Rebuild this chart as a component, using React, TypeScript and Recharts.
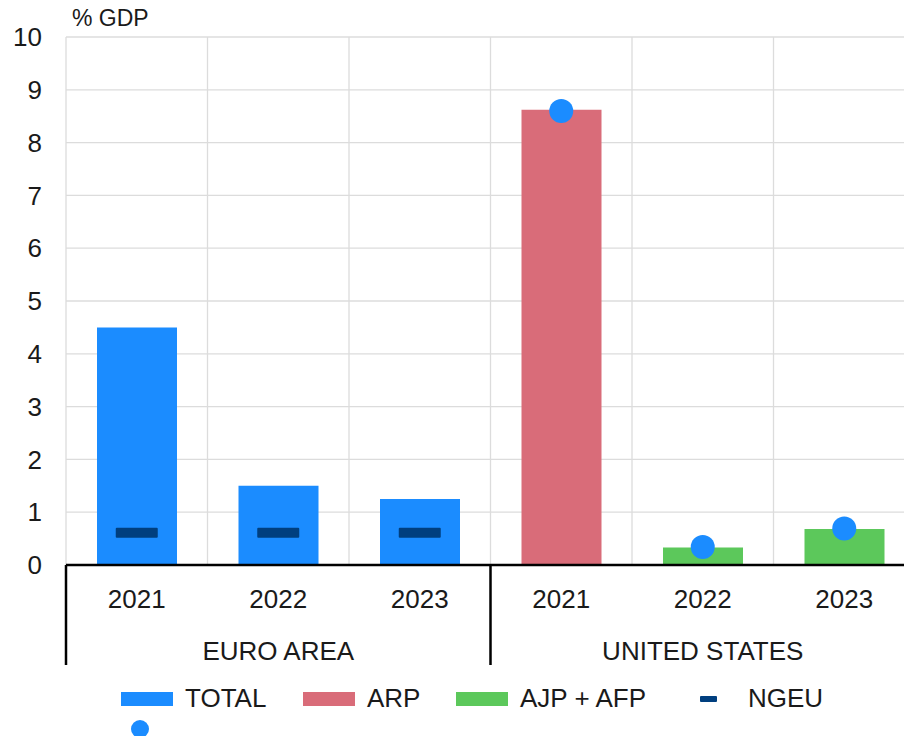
import { Bar, CartesianGrid, ComposedChart, Scatter, XAxis, YAxis } from "recharts";

// categories
const ids = ["EA 2021", "EA 2022", "EA 2023", "US 2021", "US 2022", "US 2023"];
const years = ["2021", "2022", "2023", "2021", "2022", "2023"];
const regions = [
  "EURO AREA",
  "EURO AREA",
  "EURO AREA",
  "UNITED STATES",
  "UNITED STATES",
  "UNITED STATES",
];

// series, % of GDP
const total = [4.5, 1.5, 1.25, null, null, null];
const arp = [null, null, null, 8.62, null, null];
const ajpAfp = [null, null, null, null, 0.33, 0.68];
const ngeu = [0.61, 0.61, 0.61, null, null, null];
const totalDot = [null, null, null, 8.6, 0.34, 0.69];

const yTicks = [0, 1, 2, 3, 4, 5, 6, 7, 8, 9, 10];

const BLUE = "#1b8cff";
const RED = "#d96c79";
const GREEN = "#5cc85b";
const NAVY = "#003f7f";
const TEXT = "#1a1a1a";
const FONT = '"Liberation Sans", Arial, Helvetica, sans-serif';

const data = ids.map((id, i) => ({
  id,
  total: total[i],
  arp: arp[i],
  ajpAfp: ajpAfp[i],
  ngeu: ngeu[i],
  dot: totalDot[i],
}));

function halfBand(props: any) {
  if (props.payload && typeof props.payload.offset === "number" && props.payload.offset > 0)
    return props.payload.offset;
  return props.width / props.visibleTicksCount / 2;
}

function YearTick(props: any) {
  const { x, y, index } = props;
  const half = halfBand(props);
  return (
    <g>
      <text x={x} y={y} dy={18} textAnchor="middle" fontSize={26} fill={TEXT} fontFamily={FONT}>
        {years[index]}
      </text>
      {index % 3 === 0 && (
        <line x1={x - half} x2={x - half} y1={y - 25} y2={y + 75} stroke="#000" strokeWidth={2.5} />
      )}
      {index === ids.length - 1 && (
        <line x1={x + half} x2={x + half} y1={y - 25} y2={y + 75} stroke="#000" strokeWidth={2.5} />
      )}
    </g>
  );
}

function RegionTick(props: any) {
  const { x, y, index } = props;
  if (index % 3 !== 1) return <g />;
  return (
    <text x={x} y={y} dy={18} textAnchor="middle" fontSize={26} fill={TEXT} fontFamily={FONT}>
      {regions[index]}
    </text>
  );
}

function NgeuMark(props: any) {
  const { cx, cy, payload } = props;
  if (payload == null || payload.ngeu == null || cx == null || cy == null || isNaN(cy)) return <g />;
  return <rect x={cx - 21} y={cy - 5} width={42} height={10} rx={1} fill={NAVY} />;
}

function DotMark(props: any) {
  const { cx, cy, payload } = props;
  if (payload == null || payload.dot == null || cx == null || cy == null || isNaN(cy)) return <g />;
  return <circle cx={cx} cy={cy} r={12} fill={BLUE} />;
}

const legendText = {
  position: "absolute" as const,
  top: 683,
  fontSize: 26,
  lineHeight: "30px",
  color: TEXT,
  fontFamily: FONT,
};

function Swatch({ left, color }: { left: number; color: string }) {
  return (
    <div
      style={{ position: "absolute", left, top: 692, width: 52, height: 14, background: color }}
    />
  );
}

export default function App() {
  return (
    <div
      style={{
        position: "fixed",
        left: 0,
        top: 0,
        width: 904,
        height: 736,
        overflow: "hidden",
        background: "#fff",
        fontFamily: FONT,
      }}
    >
      <ComposedChart
        width={930}
        height={680}
        data={data}
        margin={{ top: 37, right: 15, left: 8, bottom: 15 }}
      >
        <CartesianGrid
          stroke="#dcdcdc"
          strokeWidth={1.3}
          verticalCoordinatesGenerator={({ offset }: any) =>
            ids.map((_, i) => offset.left + (i * offset.width) / ids.length).concat(offset.left + offset.width)
          }
        />
        <XAxis
          dataKey="id"
          interval={0}
          height={50}
          tickSize={0}
          tickMargin={25}
          tickLine={false}
          axisLine={{ stroke: "#000", strokeWidth: 2.5 }}
          tick={<YearTick />}
        />
        <XAxis
          xAxisId="region"
          dataKey="id"
          interval={0}
          height={50}
          tickSize={0}
          tickMargin={27}
          tickLine={false}
          axisLine={false}
          tick={<RegionTick />}
        />
        <YAxis
          width={58}
          domain={[0, 10]}
          ticks={yTicks}
          interval={0}
          axisLine={false}
          tickLine={false}
          tickSize={0}
          tickMargin={24}
          tick={{ fontSize: 26, fill: TEXT, fontFamily: FONT }}
        />
        <Bar dataKey="total" stackId="a" fill={BLUE} barSize={80} isAnimationActive={false} />
        <Bar dataKey="arp" stackId="a" fill={RED} barSize={80} isAnimationActive={false} />
        <Bar dataKey="ajpAfp" stackId="a" fill={GREEN} barSize={80} isAnimationActive={false} />
        <Scatter dataKey="ngeu" shape={<NgeuMark />} isAnimationActive={false} />
        <Scatter dataKey="dot" shape={<DotMark />} isAnimationActive={false} />
      </ComposedChart>

      <div
        style={{ position: "absolute", left: 72, top: 5, fontSize: 23, color: TEXT, fontFamily: FONT }}
      >
        % GDP
      </div>

      <Swatch left={121} color={BLUE} />
      <div style={{ ...legendText, left: 185 }}>TOTAL</div>
      <Swatch left={303} color={RED} />
      <div style={{ ...legendText, left: 367 }}>ARP</div>
      <Swatch left={456} color={GREEN} />
      <div style={{ ...legendText, left: 520 }}>AJP + AFP</div>
      <div
        style={{
          position: "absolute",
          left: 700,
          top: 696,
          width: 17,
          height: 6,
          borderRadius: 1,
          background: NAVY,
        }}
      />
      <div style={{ ...legendText, left: 748 }}>NGEU</div>
      <div
        style={{
          position: "absolute",
          left: 131,
          top: 720,
          width: 18,
          height: 18,
          borderRadius: 9,
          background: BLUE,
        }}
      />
    </div>
  );
}
